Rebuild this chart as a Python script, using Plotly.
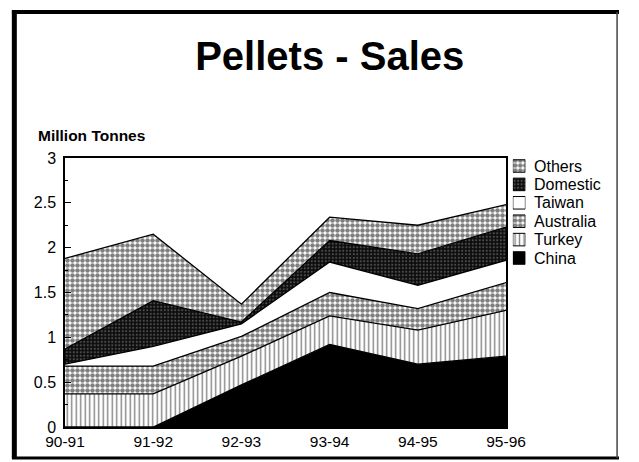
import plotly.graph_objects as go

# Pellet sales by market, million tonnes
seasons = ["90-91", "91-92", "92-93", "93-94", "94-95", "95-96"]
china = [0.0, 0.0, 0.47, 0.92, 0.70, 0.79]
turkey = [0.37, 0.37, 0.32, 0.32, 0.38, 0.51]
australia = [0.31, 0.31, 0.22, 0.26, 0.24, 0.31]
taiwan = [0.02, 0.22, 0.14, 0.34, 0.26, 0.25]
domestic = [0.17, 0.51, 0.02, 0.24, 0.35, 0.37]
others = [1.01, 0.74, 0.20, 0.26, 0.32, 0.25]

y_ticks = [0, 0.5, 1, 1.5, 2, 2.5, 3]
y_tick_text = ["0", "0.5", "1", "1.5", "2", "2.5", "3"]

FONT = "Liberation Sans, Arial, sans-serif"

dots = dict(shape=".", size=5, solidity=0.65, fgcolor="black", bgcolor="white")
styles = {
    "China": dict(fillcolor="black", fillpattern=None),
    "Turkey": dict(fillcolor="white",
                   fillpattern=dict(shape="|", size=4.5, solidity=0.3,
                                    fgcolor="black", bgcolor="white")),
    "Australia": dict(fillcolor="white", fillpattern=dots),
    "Taiwan": dict(fillcolor="white", fillpattern=None),
    "Domestic": dict(fillcolor="#1a1a1a",
                     fillpattern=dict(shape=".", size=3.5, solidity=0.3,
                                      fgcolor="#8a8a8a", bgcolor="#0d0d0d")),
    "Others": dict(fillcolor="white", fillpattern=dots),
}
series = [("China", china), ("Turkey", turkey), ("Australia", australia),
          ("Taiwan", taiwan), ("Domestic", domestic), ("Others", others)]

fig = go.Figure()
x_idx = list(range(len(seasons)))
for name, vals in series:
    st = styles[name]
    kw = dict(x=x_idx, y=vals, name=name, mode="lines", stackgroup="one",
              line=dict(color="black", width=1.3), fillcolor=st["fillcolor"],
              showlegend=False, hoverinfo="skip")
    if st["fillpattern"] is not None:
        kw["fillpattern"] = st["fillpattern"]
    fig.add_trace(go.Scatter(**kw))

# Key: small patterned squares on their own axes, top entry = top layer
legend_order = list(reversed(series))
for i, (name, _) in enumerate(legend_order):
    st = styles[name]
    kw = dict(x=[0, 1, 1, 0, 0], y=[i - 0.34, i - 0.34, i + 0.34, i + 0.34, i - 0.34],
              mode="lines", fill="toself", fillcolor=st["fillcolor"],
              line=dict(color="black", width=1), xaxis="x2", yaxis="y2",
              showlegend=False, hoverinfo="skip")
    if st["fillpattern"] is not None:
        kw["fillpattern"] = st["fillpattern"]
    fig.add_trace(go.Scatter(**kw))
    fig.add_annotation(x=0.843, xref="paper", y=i, yref="y2", text=name,
                       showarrow=False, xanchor="left", yanchor="middle",
                       font=dict(family=FONT, size=16, color="black"))

plot_w = 457 / 574
fig.update_layout(
    width=639, height=462,
    margin=dict(l=65, r=0, t=158, b=35),
    paper_bgcolor="white", plot_bgcolor="white",
    font=dict(family=FONT, color="black"),
    title=dict(text="<b>Pellets - Sales</b>", x=0.516, xanchor="center",
               y=1 - 56 / 462, yanchor="middle",
               font=dict(family=FONT, size=40, color="black")),
    xaxis=dict(domain=[0, plot_w], range=[0, 5], tickvals=x_idx, ticktext=seasons,
               showgrid=False, zeroline=False, showline=True, linecolor="black",
               linewidth=1.5, mirror=True, ticks="",
               tickfont=dict(family=FONT, size=15.5, color="black")),
    yaxis=dict(range=[0, 3], tickvals=y_ticks, ticktext=y_tick_text,
               showgrid=False, zeroline=False, showline=True, linecolor="black",
               linewidth=1.5, mirror=True, ticks="inside", ticklen=6,
               tickcolor="black", tickwidth=1, ticklabelstandoff=4,
               minor=dict(tickvals=[0.25, 0.75, 1.25, 1.75, 2.25, 2.75],
                          ticks="inside", ticklen=3, tickcolor="black"),
               tickfont=dict(family=FONT, size=16, color="black")),
    xaxis2=dict(domain=[(529 - 65) / 574, (542 - 65) / 574], range=[0, 1],
                visible=False, anchor="y2"),
    yaxis2=dict(domain=[0, 1], range=[(269 - 8) / 18.4, -8 / 18.4],
                visible=False, anchor="x2"),
    annotations=list(fig.layout.annotations) + [
        dict(text="<b>Million Tonnes</b>", x=(35 - 65) / 574, xref="paper",
             y=(427 - 135) / 269, yref="paper", showarrow=False,
             xanchor="left", yanchor="middle",
             font=dict(family=FONT, size=15.5, color="black")),
    ],
    shapes=[
        dict(type="line", xref="paper", yref="paper", x0=(12.5 - 65) / 574,
             x1=(12.5 - 65) / 574, y0=(427 - 458) / 269, y1=(427 - 10) / 269,
             line=dict(color="black", width=5)),
        dict(type="line", xref="paper", yref="paper", x0=(10 - 65) / 574,
             x1=(639 - 65) / 574, y0=(427 - 12) / 269, y1=(427 - 12) / 269,
             line=dict(color="black", width=4)),
        dict(type="line", xref="paper", yref="paper", x0=(10 - 65) / 574,
             x1=(639 - 65) / 574, y0=(427 - 458) / 269, y1=(427 - 458) / 269,
             line=dict(color="black", width=3)),
        dict(type="line", xref="paper", yref="paper", x0=(637 - 65) / 574,
             x1=(637 - 65) / 574, y0=(427 - 458) / 269, y1=(427 - 12) / 269,
             line=dict(color="#444", width=1.5)),
    ],
)

fig.write_html("out.html")
